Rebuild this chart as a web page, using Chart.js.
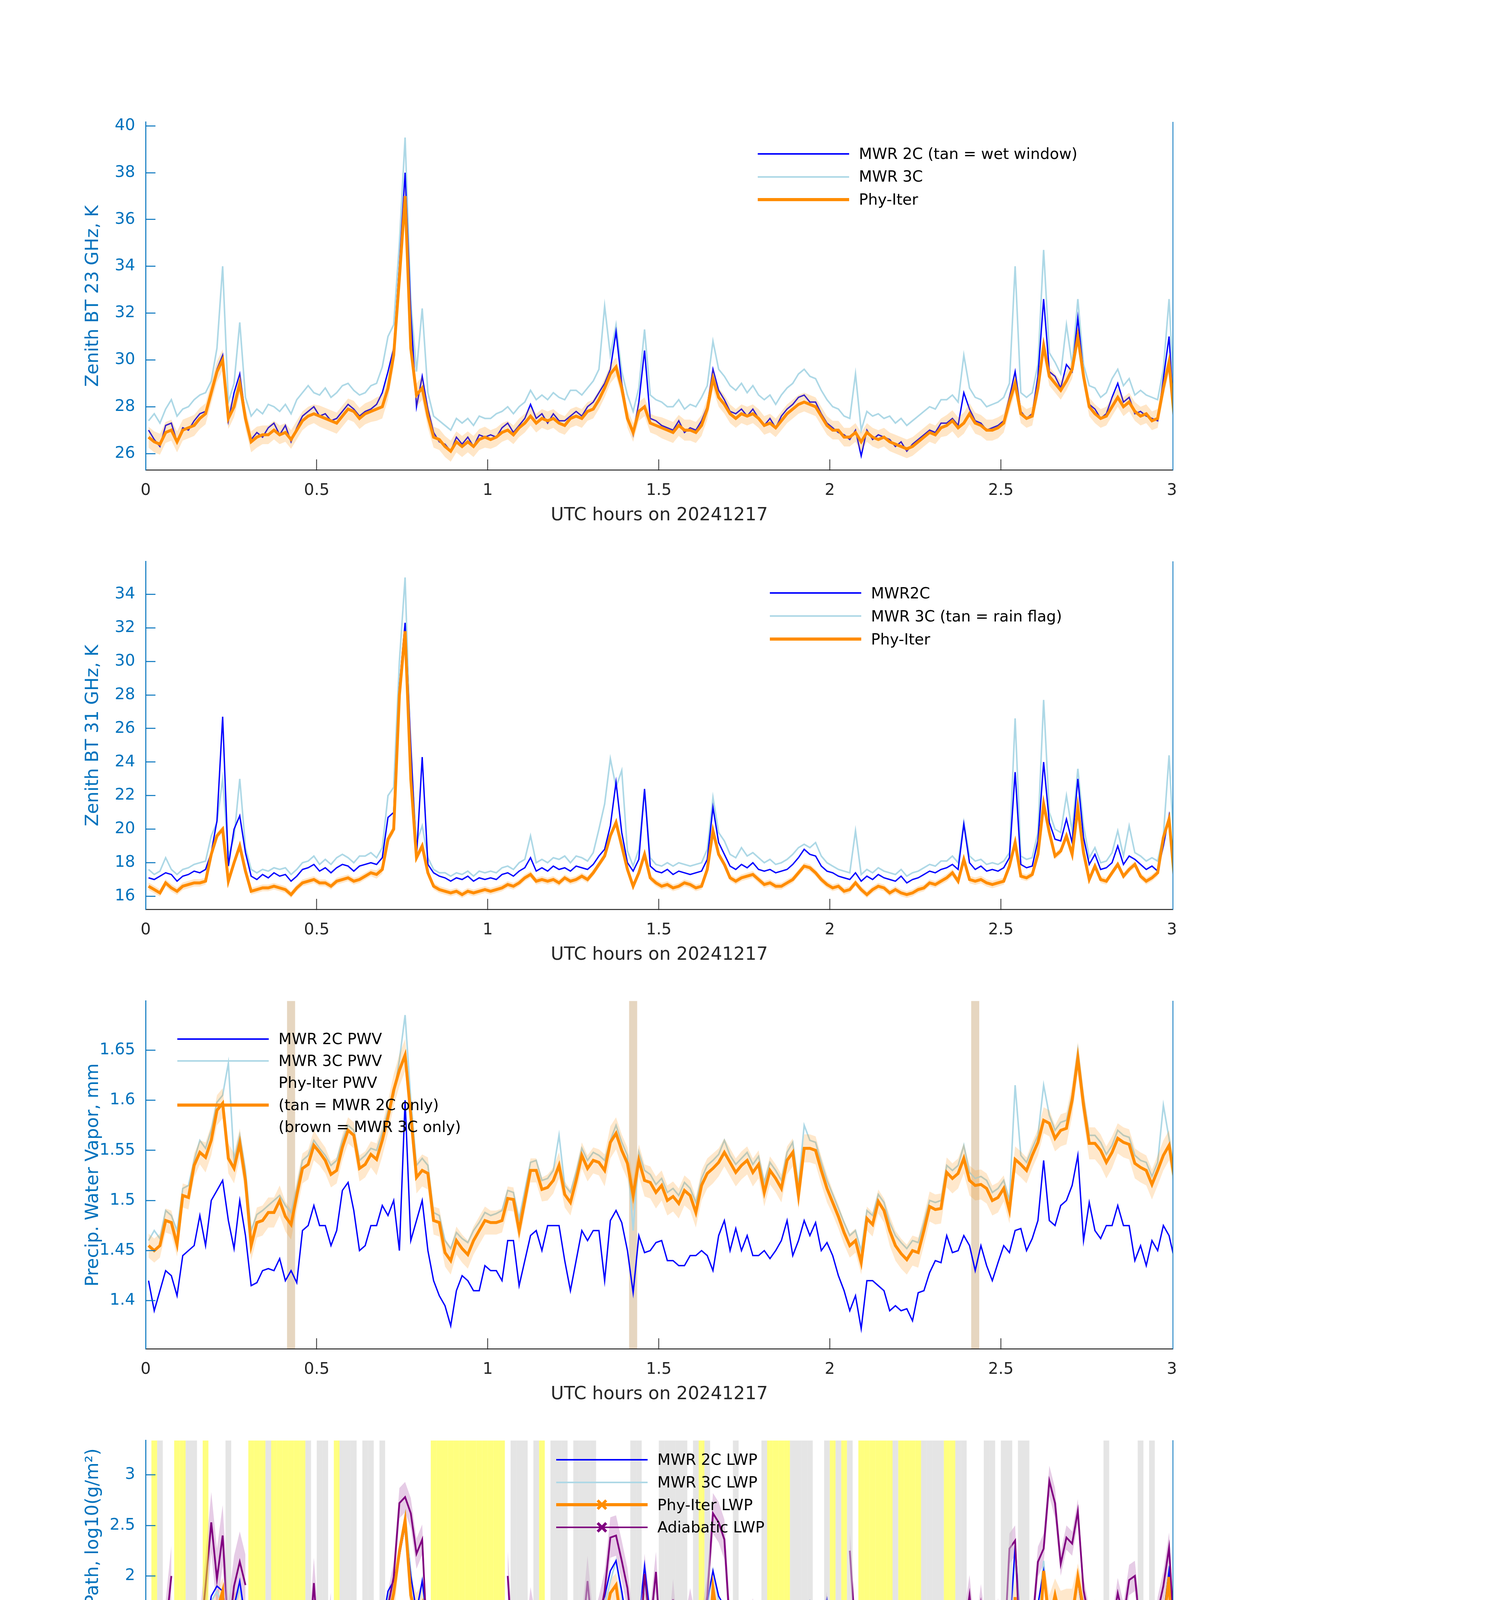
<!DOCTYPE html>
<html>
<head>
<meta charset="utf-8">
<script src="https://cdn.jsdelivr.net/npm/chart.js@4.4.1/dist/chart.umd.min.js"></script>
<style>
  html, body { margin: 0; padding: 0; background: #fff; }
  #page { position: relative; width: 3825px; height: 6000px; overflow: hidden; background: #fff; }
  #page canvas { position: absolute; left: 0; }
  .legend { position: absolute; font-family: "DejaVu Sans", sans-serif; font-size: 39px; color: #000; }
  .legend .row { position: relative; white-space: nowrap; }
  .legend .swatch { position: absolute; left: 0; }
  .legend svg { position: absolute; }
</style>
</head>
<body>
<div id="page"></div>
<script>
// DQ flag of the Phy-Iter retrieval, one value per minute (0..180)
const dqFlag = [
  0,5,4,0,0,5,5,4,4,0, 5,0,0,0,4,0,0,0,5,5, 5,4,5,5,5,5,5,5,4,0, 4,4,0,5,4,4,4,0,4,4,
  0,4,0,0,0,0,0,0,0,0, 5,5,5,5,5,5,5,5,5,5, 5,5,5,0,4,4,4,0,4,5, 0,4,4,4,0,4,4,3,4,0,
  0,0,0,0,0,4,4,0,0,0, 4,4,3,4,4,0,4,5,4,0, 0,0,0,4,0,0,0,0,3,5, 5,5,5,4,4,4,4,0,0,4,
  5,4,5,3,0,5,5,5,5,5, 5,4,5,5,5,5,4,4,4,4, 5,5,4,4,0,0,0,4,4,0, 4,3,0,4,4,0,0,0,0,0,
  0,0,0,0,0,0,0,0,4,0, 0,0,0,0,4,0,4,0,0,0,0
];

// 23 GHz brightness temperature, K
const bt23Mwr2c = [
  27.0,26.6,26.3,27.2,27.3,26.5,27.1,27.0,27.4,27.7, 27.8,28.7,29.6,30.2,27.4,28.6,29.4,27.6,26.6,26.9,
  26.7,27.1,27.3,26.8,27.2,26.5,27.1,27.6,27.8,28.0, 27.6,27.7,27.4,27.5,27.8,28.1,27.9,27.6,27.8,27.9,
  28.1,28.6,29.5,30.5,34.0,38.0,32.0,28.0,29.3,27.9, 26.9,26.5,26.4,26.1,26.7,26.4,26.7,26.3,26.8,26.7,
  26.8,26.7,27.1,27.3,26.9,27.2,27.5,28.1,27.5,27.7, 27.3,27.7,27.4,27.4,27.6,27.8,27.6,28.0,28.2,28.6,
  29.0,29.6,31.2,29.0,27.6,26.8,28.2,30.4,27.5,27.4, 27.2,27.1,27.0,27.4,26.9,27.1,27.0,27.4,28.0,29.6,
  28.7,28.3,27.8,27.7,27.9,27.6,27.9,27.5,27.2,27.5, 27.1,27.6,27.9,28.1,28.4,28.5,28.2,28.2,27.7,27.3,
  27.1,26.9,26.8,26.6,27.0,25.9,27.0,26.6,26.8,26.7, 26.6,26.3,26.5,26.1,26.4,26.6,26.8,27.0,26.9,27.3,
  27.3,27.5,27.2,28.6,27.9,27.4,27.3,27.0,27.1,27.2, 27.4,28.4,29.5,27.8,27.5,27.7,29.3,32.6,29.5,29.3,
  28.8,29.8,29.5,31.8,29.4,28.1,27.9,27.5,27.7,28.4, 29.0,28.2,28.4,27.7,27.8,27.6,27.5,27.4,29.2,31.0,27.0
];
const bt23Mwr3c = [
  27.4,27.7,27.3,27.9,28.3,27.6,27.9,28.0,28.3,28.5, 28.6,29.1,30.5,34.0,28.2,29.0,31.6,28.4,27.6,27.9,
  27.7,28.1,28.0,27.8,28.1,27.7,28.3,28.6,28.9,28.6, 28.5,28.8,28.4,28.6,28.9,29.0,28.7,28.5,28.6,28.9,
  29.0,29.7,31.0,31.5,35.0,39.5,32.5,29.5,32.2,28.6, 27.6,27.4,27.2,27.0,27.5,27.3,27.5,27.2,27.6,27.5,
  27.5,27.7,27.8,28.0,27.7,28.0,28.2,28.7,28.3,28.5, 28.3,28.6,28.4,28.3,28.7,28.7,28.5,28.8,29.1,29.6,
  32.3,30.2,31.5,29.5,28.5,27.8,28.8,31.3,28.5,28.3, 28.2,28.0,28.0,28.3,27.9,28.1,28.0,28.4,28.9,30.8,
  29.6,29.3,28.9,28.7,29.0,28.6,28.9,28.5,28.3,28.5, 28.1,28.5,28.8,29.0,29.4,29.6,29.3,29.2,28.7,28.3,
  28.0,27.9,27.6,27.5,29.4,27.0,27.8,27.6,27.7,27.5, 27.6,27.3,27.5,27.2,27.4,27.6,27.8,28.0,27.9,28.3,
  28.3,28.5,28.2,30.2,28.8,28.4,28.3,28.0,28.1,28.2, 28.4,29.0,34.0,28.6,28.4,28.6,29.8,34.7,30.3,29.9,
  29.4,31.5,29.8,32.6,29.8,28.9,28.8,28.4,28.6,29.2, 29.6,28.9,29.2,28.5,28.7,28.5,28.4,28.3,29.6,32.6,27.8
];
const bt23Phy = [
  26.7,26.5,26.4,26.9,27.0,26.5,27.0,27.1,27.2,27.5, 27.7,28.6,29.5,30.0,27.5,28.0,29.0,27.5,26.5,26.7,
  26.8,26.8,27.0,26.8,26.9,26.6,27.0,27.4,27.6,27.7, 27.6,27.5,27.4,27.3,27.6,27.9,27.8,27.5,27.7,27.8,
  27.9,28.0,28.8,30.2,33.5,37.0,30.5,28.5,28.8,27.6, 26.7,26.6,26.3,26.1,26.5,26.3,26.5,26.3,26.6,26.7,
  26.6,26.7,26.9,27.0,26.8,27.1,27.3,27.6,27.3,27.5, 27.4,27.5,27.3,27.2,27.5,27.6,27.5,27.8,27.9,28.3,
  28.8,29.4,29.7,28.8,27.5,26.9,27.8,28.0,27.3,27.2, 27.1,27.0,26.9,27.2,27.0,27.0,26.9,27.2,27.9,29.2,
  28.4,28.1,27.7,27.5,27.7,27.6,27.7,27.5,27.2,27.3, 27.1,27.4,27.7,27.9,28.1,28.2,28.1,28.0,27.6,27.2,
  27.0,27.0,26.7,26.7,26.9,26.5,26.9,26.7,26.6,26.7, 26.5,26.4,26.3,26.2,26.3,26.5,26.7,26.9,26.8,27.1,
  27.2,27.4,27.1,27.3,27.7,27.3,27.2,27.0,27.0,27.1, 27.3,28.2,29.0,27.7,27.5,27.6,28.8,30.6,29.3,29.0,
  28.7,29.1,29.6,31.0,29.3,28.0,27.7,27.5,27.6,28.0, 28.4,28.0,28.2,27.8,27.6,27.7,27.4,27.5,28.8,29.9,27.3
];
// half width of the Phy-Iter uncertainty band, per 10 minutes
const bt23PhySpread = [0.45,0.45,0.4,0.45,0.5,0.45,0.4,0.4,0.4,0.45,0.4,0.4,0.4,0.4,0.45,0.4,0.4,0.4,0.45];

// 31 GHz brightness temperature, K
const bt31Mwr2c = [
  17.1,17.0,17.2,17.4,17.3,16.9,17.2,17.3,17.5,17.4, 17.6,18.6,20.5,26.7,17.8,20.0,20.8,18.6,17.2,17.0,
  17.3,17.1,17.4,17.2,17.3,16.9,17.2,17.6,17.7,17.9, 17.5,17.7,17.4,17.7,17.9,17.8,17.5,17.8,17.9,18.0,
  17.9,18.3,20.7,21.0,28.5,32.3,25.0,18.3,24.3,17.9, 17.4,17.2,17.1,16.9,17.1,17.0,17.2,16.9,17.1,17.0,
  17.1,17.0,17.3,17.4,17.2,17.5,17.7,18.3,17.5,17.7, 17.5,17.8,17.6,17.7,17.5,17.8,17.7,17.6,17.9,18.4,
  18.8,20.2,22.8,19.8,18.0,17.5,18.2,22.4,17.8,17.5, 17.4,17.6,17.3,17.5,17.4,17.3,17.4,17.5,18.2,21.3,
  19.2,18.5,17.8,17.6,17.9,17.7,18.0,17.6,17.5,17.6, 17.4,17.5,17.6,17.9,18.3,18.8,18.5,18.4,17.8,17.5,
  17.4,17.2,17.1,17.0,17.4,16.9,17.2,17.0,17.3,17.1, 17.0,16.9,17.2,16.8,17.0,17.1,17.3,17.5,17.4,17.6,
  17.7,17.9,17.6,20.3,18.0,17.6,17.8,17.5,17.6,17.5, 17.7,18.3,23.4,17.9,17.7,17.8,19.3,24.0,20.4,19.4,
  19.3,20.6,19.2,23.0,19.5,17.9,18.5,17.6,17.7,18.0, 19.0,17.9,18.4,18.2,17.9,17.6,17.8,17.5,19.0,20.8,17.5
];
const bt31Mwr3c = [
  17.6,17.3,17.5,18.3,17.6,17.3,17.6,17.7,17.9,18.0, 18.1,19.6,20.4,23.0,18.4,19.5,23.0,18.9,17.6,17.4,
  17.6,17.5,17.7,17.6,17.7,17.3,17.6,18.0,18.1,18.4, 17.9,18.2,17.9,18.3,18.5,18.3,18.0,18.4,18.4,18.6,
  18.3,18.9,22.0,22.5,30.0,35.0,24.0,19.2,20.2,18.3, 17.6,17.4,17.4,17.2,17.4,17.3,17.5,17.2,17.5,17.4,
  17.5,17.4,17.7,17.8,17.6,18.0,18.2,19.6,18.0,18.2, 18.0,18.3,18.2,18.4,18.0,18.4,18.3,18.1,18.6,20.0,
  21.5,24.2,22.5,23.5,18.7,17.8,18.8,22.3,18.3,17.9, 17.8,18.0,17.8,18.0,17.9,17.8,17.9,18.0,18.8,21.9,
  19.8,19.3,18.5,18.3,18.9,18.4,18.6,18.3,18.0,18.2, 17.9,18.0,18.2,18.5,18.9,19.1,18.9,19.2,18.4,18.0,
  17.8,17.6,17.5,17.4,19.9,17.3,17.6,17.4,17.7,17.5, 17.4,17.3,17.6,17.2,17.4,17.5,17.7,17.9,17.8,18.1,
  18.1,18.4,18.0,20.4,18.4,18.1,18.2,17.9,18.0,17.9, 18.1,18.6,26.6,18.4,18.2,18.3,19.8,27.7,21.0,20.0,
  19.8,22.0,19.9,23.6,20.2,18.3,18.9,18.0,18.1,18.6, 19.9,18.4,20.2,18.6,18.4,18.1,18.3,18.1,19.6,24.4,18.0
];
const bt31Phy = [
  16.6,16.4,16.2,16.8,16.5,16.3,16.6,16.7,16.8,16.8, 16.9,18.5,19.6,20.0,16.9,18.0,19.0,17.5,16.3,16.4,
  16.5,16.5,16.6,16.5,16.4,16.1,16.5,16.8,16.9,17.0, 16.8,16.8,16.6,16.9,17.0,17.1,16.9,17.0,17.2,17.4,
  17.3,17.6,19.4,20.0,28.0,31.8,23.0,18.3,19.0,17.4, 16.6,16.4,16.3,16.2,16.3,16.1,16.3,16.2,16.3,16.4,
  16.3,16.4,16.5,16.7,16.6,16.8,17.1,17.3,16.9,17.0, 16.9,17.0,16.8,17.1,16.9,17.0,17.2,17.0,17.4,17.9,
  18.4,19.6,20.4,19.0,17.6,16.6,17.4,18.5,17.1,16.8, 16.6,16.7,16.5,16.6,16.8,16.7,16.5,16.6,17.6,19.9,
  18.5,17.9,17.1,16.9,17.1,17.2,17.3,17.0,16.7,16.8, 16.6,16.6,16.8,17.0,17.4,17.8,17.7,17.4,17.0,16.7,
  16.5,16.6,16.3,16.4,16.8,16.4,16.1,16.4,16.6,16.5, 16.2,16.4,16.2,16.1,16.2,16.4,16.5,16.8,16.7,16.9,
  17.1,17.4,16.9,18.2,17.0,16.9,17.0,16.8,16.7,16.8, 16.9,17.8,19.2,17.2,17.1,17.3,18.5,21.5,19.8,18.4,
  18.7,19.6,18.5,21.3,18.6,17.0,17.8,17.0,16.9,17.4, 17.9,17.2,17.6,17.9,17.2,16.9,17.1,17.4,19.5,20.6,16.8
];
const bt31PhySpread = [0.22,0.2,0.2,0.2,0.25,0.2,0.2,0.2,0.2,0.2,0.2,0.2,0.2,0.2,0.22,0.2,0.2,0.2,0.22];

// precipitable water vapor, mm
const pwvMwr2c = [
  1.42,1.39,1.41,1.43,1.425,1.405,1.445,1.45,1.455,1.485, 1.455,1.50,1.51,1.52,1.48,1.452,1.50,1.465,1.415,1.418,
  1.43,1.432,1.43,1.442,1.42,1.43,1.418,1.47,1.475,1.495, 1.475,1.475,1.455,1.47,1.51,1.518,1.49,1.45,1.455,1.475,
  1.475,1.495,1.485,1.50,1.45,1.60,1.46,1.48,1.50,1.45, 1.42,1.405,1.395,1.375,1.41,1.425,1.42,1.41,1.41,1.435,
  1.43,1.43,1.42,1.46,1.46,1.415,1.44,1.465,1.47,1.45, 1.475,1.475,1.475,1.44,1.41,1.44,1.47,1.46,1.47,1.47,
  1.42,1.48,1.49,1.478,1.45,1.408,1.465,1.448,1.45,1.458, 1.46,1.44,1.44,1.435,1.435,1.445,1.445,1.45,1.445,1.43,
  1.465,1.48,1.45,1.472,1.45,1.465,1.445,1.445,1.45,1.442, 1.45,1.46,1.48,1.445,1.46,1.48,1.465,1.478,1.45,1.458,
  1.445,1.425,1.41,1.39,1.405,1.372,1.42,1.42,1.415,1.41, 1.39,1.395,1.39,1.392,1.38,1.408,1.41,1.428,1.44,1.438,
  1.465,1.448,1.45,1.465,1.455,1.43,1.455,1.435,1.42,1.438, 1.455,1.448,1.47,1.472,1.45,1.462,1.48,1.54,1.48,1.475,
  1.495,1.50,1.515,1.545,1.46,1.498,1.47,1.462,1.475,1.475, 1.495,1.475,1.475,1.44,1.455,1.435,1.46,1.45,1.475,1.465,1.44
];
const pwvMwr3c = [
  1.460,1.470,1.462,1.490,1.485,1.470,1.512,1.515,1.540,1.560, 1.552,1.570,1.598,1.605,1.637,1.540,1.565,1.530,1.470,1.486,
  1.490,1.495,1.500,1.505,1.495,1.488,1.512,1.540,1.545,1.560, 1.552,1.545,1.535,1.540,1.560,1.575,1.570,1.540,1.545,1.552,
  1.550,1.568,1.590,1.605,1.640,1.685,1.600,1.535,1.542,1.535, 1.488,1.485,1.460,1.452,1.468,1.462,1.458,1.470,1.478,1.488,
  1.485,1.487,1.490,1.510,1.508,1.482,1.510,1.538,1.540,1.520, 1.522,1.530,1.565,1.515,1.508,1.528,1.552,1.540,1.548,1.545,
  1.540,1.560,1.575,1.558,1.545,1.470,1.548,1.530,1.526,1.516, 1.522,1.508,1.512,1.505,1.518,1.512,1.498,1.522,1.535,1.540,
  1.546,1.560,1.545,1.536,1.542,1.548,1.536,1.544,1.518,1.538, 1.530,1.520,1.548,1.558,1.515,1.575,1.560,1.558,1.538,1.520,
  1.506,1.492,1.478,1.465,1.470,1.450,1.490,1.485,1.506,1.498, 1.478,1.465,1.458,1.452,1.460,1.458,1.478,1.500,1.498,1.500,
  1.535,1.530,1.535,1.555,1.528,1.522,1.524,1.520,1.508,1.512, 1.520,1.500,1.615,1.545,1.538,1.552,1.565,1.615,1.585,1.570,
  1.578,1.580,1.605,1.650,1.602,1.565,1.565,1.558,1.546,1.555, 1.570,1.565,1.563,1.545,1.540,1.538,1.524,1.538,1.595,1.562,1.528
];
const pwvPhy = [
  1.455,1.450,1.455,1.480,1.478,1.456,1.505,1.503,1.535,1.548, 1.543,1.560,1.590,1.597,1.542,1.532,1.557,1.520,1.455,1.478,
  1.480,1.488,1.488,1.500,1.484,1.476,1.505,1.532,1.536,1.555, 1.548,1.540,1.526,1.530,1.553,1.570,1.565,1.532,1.536,1.546,
  1.541,1.560,1.583,1.610,1.630,1.645,1.585,1.523,1.530,1.527, 1.480,1.478,1.448,1.440,1.460,1.452,1.446,1.460,1.470,1.480,
  1.478,1.478,1.480,1.502,1.501,1.470,1.500,1.530,1.530,1.511, 1.513,1.520,1.535,1.506,1.498,1.520,1.545,1.532,1.540,1.538,
  1.530,1.558,1.567,1.550,1.537,1.505,1.540,1.520,1.518,1.508, 1.515,1.500,1.504,1.497,1.510,1.505,1.488,1.515,1.527,1.532,
  1.538,1.548,1.538,1.528,1.535,1.540,1.528,1.536,1.508,1.530, 1.522,1.512,1.540,1.548,1.505,1.552,1.552,1.550,1.530,1.512,
  1.498,1.484,1.468,1.455,1.460,1.438,1.482,1.476,1.499,1.490, 1.470,1.455,1.447,1.441,1.450,1.448,1.470,1.494,1.491,1.492,
  1.528,1.522,1.527,1.542,1.520,1.515,1.516,1.512,1.500,1.503, 1.512,1.490,1.541,1.536,1.530,1.545,1.558,1.580,1.577,1.562,
  1.570,1.572,1.600,1.642,1.595,1.557,1.557,1.550,1.538,1.548, 1.562,1.558,1.556,1.537,1.533,1.530,1.516,1.530,1.545,1.555,1.520
];
const pwvPhySpread = [0.012,0.015,0.015,0.013,0.016,0.014,0.012,0.013,0.016,0.015,0.014,0.014,0.012,0.015,0.015,0.013,0.016,0.015,0.013];
// minutes flagged "MWR 2C only"
const pwvTanMinutes = [25, 85, 145];

// liquid water path, log10(g/m2); null = no retrieval
const lwpMwr2c = [
  1.45,1.42,1.46,1.50,1.62,1.42,1.45,1.45,1.42,1.50, 1.45,1.80,1.90,1.85,1.45,1.70,1.95,1.55,1.45,1.42,
  1.48,1.44,1.47,1.42,1.40,1.38,1.47,1.42,1.48,1.43, 1.50,1.40,1.58,1.43,1.40,1.55,1.44,1.60,1.58,1.50,
  1.66,1.52,1.85,1.95,2.20,2.50,2.00,1.65,1.95,1.50, 1.47,1.44,1.46,1.40,1.43,1.45,1.44,1.42,1.46,1.43,
  1.40,1.42,1.45,1.55,1.52,1.47,1.48,1.60,1.45,1.62, 1.40,1.50,1.46,1.55,1.72,1.48,1.50,1.46,1.55,1.65,
  1.80,2.05,2.15,1.85,1.50,1.48,1.55,2.10,1.60,1.50, 1.50,1.45,1.55,1.45,1.55,1.66,1.45,1.55,1.75,2.05,
  1.80,1.70,1.50,1.55,1.70,1.45,1.65,1.50,1.45,1.45, 1.42,1.48,1.40,1.55,1.62,1.60,1.75,1.60,1.55,1.77,
  1.42,1.45,1.38,1.45,1.40,1.40,1.43,1.45,1.42,1.48, 1.45,1.48,1.35,1.45,1.40,1.38,1.43,1.50,1.42,1.42,
  1.42,1.50,1.55,1.60,1.55,1.62,1.45,1.50,1.52,1.48, 1.55,1.42,2.30,1.45,1.50,1.45,1.72,2.05,1.55,1.70,
  1.65,1.55,1.65,1.95,1.60,1.45,1.50,1.48,1.46,1.50, 1.65,1.50,1.72,1.68,1.50,1.55,1.50,1.55,1.60,2.05,1.48
];
const lwpMwr3c = [
  1.35,1.28,1.25,1.32,1.40,1.30,1.22,1.25,1.28,1.30, 1.33,1.75,1.85,1.70,1.30,1.65,1.90,1.45,1.28,1.22,
  1.25,1.28,1.30,1.32,1.27,1.24,1.30,1.33,1.35,1.30, 1.33,1.27,1.35,1.30,1.28,1.33,1.30,1.35,1.40,1.35,
  1.50,1.45,1.80,1.90,2.20,2.60,2.05,1.55,1.95,1.40, 1.30,1.25,1.22,1.25,1.20,1.24,1.27,1.22,1.26,1.28,
  1.24,1.30,1.28,1.40,1.35,1.30,1.33,1.38,1.32,1.40, 1.30,1.35,1.32,1.38,1.45,1.35,1.37,1.33,1.38,1.50,
  1.70,1.95,2.15,1.80,1.40,1.35,1.40,1.95,1.45,1.38, 1.35,1.33,1.38,1.35,1.40,1.45,1.35,1.45,1.70,2.05,
  1.75,1.65,1.45,1.48,1.60,1.40,1.55,1.42,1.38,1.32, 1.30,1.35,1.33,1.40,1.45,1.48,1.55,1.50,1.45,1.55,
  1.35,1.38,1.32,1.35,1.30,1.32,1.35,1.38,1.33,1.36, 1.33,1.35,1.28,1.33,1.30,1.30,1.33,1.38,1.33,1.32,
  1.35,1.40,1.45,1.50,1.45,1.52,1.38,1.42,1.45,1.40, 1.45,1.38,2.20,1.40,1.42,1.40,1.62,2.15,1.50,1.62,
  1.58,1.50,1.62,2.00,1.55,1.40,1.45,1.42,1.40,1.45, 1.55,1.45,1.62,1.60,1.45,1.48,1.42,1.45,1.55,2.10,1.42
];
const lwpPhy = [
  0.77,null,-1.5,0.91,0.60,null,null,-1.5,0.22,-1.5, null,1.48,1.65,1.85,0.38,1.62,1.72,0.98,null,null,
  null,null,null,null,null,null,null,null,-1.5,0.54, -1.5,-1.5,0.60,-1.5,-1.5,0.31,0.32,0.62,0.96,0.64,
  1.13,0.95,1.55,1.83,2.24,2.55,1.81,1.58,1.72,0.87, null,null,null,null,null,null,null,null,null,null,
  null,null,null,0.53,0.55,0.69,0.38,0.85,1.08,null, 0.86,0.22,0.40,0.60,1.17,0.07,0.35,0.60,0.95,1.20,
  1.55,1.83,1.91,1.50,0.22,0.85,1.40,1.64,1.35,0.86, -1.5,0.55,-1.5,0.64,0.54,0.82,-1.5,-1.5,1.00,1.88,
  1.49,1.51,0.92,0.62,0.89,0.90,1.00,0.89,-1.5,null, null,null,null,0.55,0.95,1.13,1.35,1.35,1.15,0.98,
  null,null,null,1.10,1.03,null,null,null,null,null, null,null,null,null,null,null,0.56,1.00,-1.5,null,
  null,null,0.93,1.25,0.77,0.85,1.24,0.66,0.58,0.81, -1.5,0.60,1.79,0.95,0.83,1.08,1.12,2.05,1.54,1.81,
  1.56,1.60,1.60,1.99,1.67,0.81,1.37,0.80,0.72,0.86, 1.38,1.14,1.43,1.39,0.79,1.27,1.21,0.63,1.50,1.99,0.61
];
const lwpAdiabatic = [
  1.50,null,1.40,1.45,2.00,null,null,1.13,1.08,1.32, 1.90,2.53,1.97,2.40,1.43,1.90,2.14,1.91,null,null,
  null,1.11,null,null,null,null,null,null,1.12,1.93, 1.10,1.10,1.54,null,1.12,1.41,1.11,1.28,1.10,1.10,
  1.52,1.39,1.70,1.99,2.72,2.78,2.62,2.22,2.36,1.18, null,null,null,null,null,null,null,null,null,null,
  null,null,null,2.00,1.11,1.10,1.10,1.64,1.33,null, 1.49,1.45,1.40,1.14,1.37,1.11,1.35,1.95,1.35,1.55,
  1.85,2.38,2.40,2.15,1.88,1.38,1.08,2.02,1.50,2.04, 1.13,1.13,1.77,1.14,1.36,1.68,1.38,1.45,1.80,2.62,
  2.53,2.36,1.47,1.38,1.29,1.36,1.58,1.18,null,null, null,null,null,1.07,1.10,1.43,1.52,1.27,1.37,1.65,
  null,1.07,null,2.25,1.40,null,null,null,null,null, null,1.13,null,null,null,null,1.12,1.10,1.38,1.07,
  null,null,1.12,1.40,1.81,1.25,1.72,1.25,1.18,1.58, 1.13,2.27,2.35,1.13,1.33,1.49,2.14,2.27,2.94,2.72,
  2.12,2.38,2.32,2.64,1.86,1.57,1.61,1.55,1.14,1.49, 1.83,1.58,1.96,2.00,1.45,1.50,1.13,1.64,1.90,2.28,1.33
];
// Phy-Iter LWP 1-sigma in g/m2 and adiabatic band half width in log10, per 10 minutes
const lwpPhySigma = [22,25,25,25,30,30,25,25,25,25,22,25,25,25,25,30,35,30,30];
const lwpAdiabaticSpread = [0.3,0.3,0.25,0.3,0.15,0.2,0.25,0.25,0.2,0.2,0.2,0.2,0.2,0.25,0.2,0.15,0.12,0.15,0.15];

const BLUE = '#0000ff';
const LIGHTBLUE = '#add8e6';
const ORANGE = '#ff8c00';
const PURPLE = '#800080';
const AXIS_BLUE = '#0072bd';
const AXIS_DARK = '#262626';

Chart.defaults.font.family = '"DejaVu Sans", sans-serif';

const page = document.getElementById('page');
const plotTops = [296, 1421, 2546, 3671, 4795];
const TOP_PAD = 60;

// sample times: centre of each minute, in hours
const hours = dqFlag.map((f, i) => (i + 0.5) / 60);

function pts(values) {
    return values.map((v, i) => ({x: hours[i], y: v}));
}

function band(values, spread, sign) {
    return values.map((v, i) => v === null ? null : v + sign * spread[Math.floor(i / 10)]);
}

// log10 band from a linear sigma
function logBand(values, sigma, sign) {
    return values.map((v, i) => {
        if (v === null) return null;
        const lin = Math.pow(10, v) + sign * sigma[Math.floor(i / 10)];
        return lin > 0.03 ? Math.log10(lin) : -1.5;
    });
}

// points with no neighbour get a marker
function isolated(values) {
    return pts(values).filter((p, i) => p.y !== null && values[i - 1] == null && values[i + 1] == null);
}

function tickText(v) {
    return String(Math.round(v * 1000) / 1000);
}

function lineSet(label, values, color, width, order) {
    return {label, data: pts(values), borderColor: color, borderWidth: width, order,
        pointRadius: 0, fill: false, spanGaps: false};
}

function fillPair(lo, hi, color, order) {
    return [
        {label: '', data: pts(lo), borderColor: 'rgba(0,0,0,0)', borderWidth: 1, pointRadius: 0, fill: false, order},
        {label: '', data: pts(hi), borderColor: 'rgba(0,0,0,0)', borderWidth: 1, pointRadius: 0, fill: '-1', backgroundColor: color, order}
    ];
}

function makeChart(idx, datasets, y) {
    const canvas = document.createElement('canvas');
    canvas.width = 3825;
    canvas.height = 1125;
    canvas.style.width = '3825px';
    canvas.style.height = '1125px';
    canvas.style.top = (plotTops[idx] - TOP_PAD) + 'px';
    page.appendChild(canvas);
    return new Chart(canvas, {
        type: 'line',
        data: {datasets},
        options: {
            responsive: false,
            animation: false,
            devicePixelRatio: 1,
            layout: {padding: {left: 0, right: 822, top: TOP_PAD, bottom: 0}},
            plugins: {legend: {display: false}, tooltip: {enabled: false}},
            elements: {line: {tension: 0}},
            scales: {
                x: {
                    type: 'linear', position: 'bottom', min: 0, max: 3.003, offset: false,
                    afterFit: s => { s.height = 158; },
                    border: {display: true, color: AXIS_DARK, width: 2.5, z: 1},
                    grid: {display: true, offset: false, drawOnChartArea: false, drawTicks: true, tickLength: -27, tickWidth: 2, z: 1,
                        tickColor: c => (c.tick && (c.tick.value === 0 || c.tick.value === 3)) ? 'rgba(0,0,0,0)' : AXIS_DARK},
                    ticks: {stepSize: 0.5, includeBounds: false, autoSkip: false, maxRotation: 0, padding: 56,
                        color: AXIS_DARK, font: {size: 41}, callback: tickText},
                    title: {display: true, text: 'UTC hours on 20241217', color: AXIS_DARK, font: {size: 46},
                        padding: {top: 0, bottom: 13}}
                },
                y: {
                    type: 'linear', position: 'left', min: y.min, max: y.max,
                    afterFit: s => { s.width = 373; },
                    border: {display: true, color: AXIS_BLUE, width: 2.5, z: 1},
                    grid: {display: true, drawOnChartArea: false, drawTicks: true, tickLength: -25, tickWidth: 2.5, tickColor: AXIS_BLUE, z: 1},
                    ticks: {stepSize: y.step, includeBounds: false, autoSkip: false, padding: 52,
                        color: AXIS_BLUE, font: {size: 41}, callback: tickText},
                    title: {display: true, text: y.title, color: AXIS_BLUE, font: {size: 46},
                        padding: {top: 211, bottom: 0}}
                },
                yRight: {
                    type: 'linear', position: 'right', min: 0, max: 1,
                    afterFit: s => { s.width = 0; },
                    border: {display: true, color: AXIS_BLUE, width: 2, z: 1},
                    grid: {display: false},
                    ticks: {display: false}
                }
            }
        }
    });
}

function addLegend(spec) {
    const box = document.createElement('div');
    box.className = 'legend';
    box.style.left = spec.left + 'px';
    box.style.top = (spec.firstCenter - spec.gap / 2) + 'px';
    spec.items.forEach(it => {
        const lines = [].concat(it.text);
        const h = lines.length * spec.gap;
        const row = document.createElement('div');
        row.className = 'row';
        row.style.height = h + 'px';
        row.style.lineHeight = spec.gap + 'px';
        row.style.paddingLeft = '259px';
        lines.forEach((t, k) => {
            if (k) row.appendChild(document.createElement('br'));
            row.appendChild(document.createTextNode(t));
        });
        const sw = document.createElement('div');
        sw.className = 'swatch';
        sw.style.width = '234px';
        sw.style.height = it.width + 'px';
        sw.style.top = (h / 2 - it.width / 2) + 'px';
        sw.style.background = it.color;
        row.appendChild(sw);
        if (it.marker) {
            const ns = 'http://www.w3.org/2000/svg';
            const svg = document.createElementNS(ns, 'svg');
            svg.setAttribute('width', '30');
            svg.setAttribute('height', '30');
            svg.style.left = (117 - 15) + 'px';
            svg.style.top = (h / 2 - 15) + 'px';
            [[4, 4, 26, 26], [4, 26, 26, 4]].forEach(c => {
                const l = document.createElementNS(ns, 'line');
                l.setAttribute('x1', c[0]); l.setAttribute('y1', c[1]);
                l.setAttribute('x2', c[2]); l.setAttribute('y2', c[3]);
                l.setAttribute('stroke', it.color);
                l.setAttribute('stroke-width', '7');
                svg.appendChild(l);
            });
            row.appendChild(svg);
        }
        box.appendChild(row);
    });
    page.appendChild(box);
}

// ---- panel 1: 23 GHz
makeChart(0, [
    lineSet('MWR 2C (tan = wet window)', bt23Mwr2c, BLUE, 3.5, 4),
    lineSet('MWR 3C', bt23Mwr3c, LIGHTBLUE, 4, 5),
    ...fillPair(band(bt23Phy, bt23PhySpread, -1), band(bt23Phy, bt23PhySpread, 1), 'rgba(255,140,0,0.22)', 3),
    lineSet('Phy-Iter', bt23Phy, ORANGE, 7.5, 1)
], {min: 25.3, max: 40.16, step: 2, title: 'Zenith BT 23 GHz, K'});
addLegend({left: 1940, firstCenter: 394, gap: 58.5, items: [
    {text: 'MWR 2C (tan = wet window)', color: BLUE, width: 4},
    {text: 'MWR 3C', color: LIGHTBLUE, width: 4},
    {text: 'Phy-Iter', color: ORANGE, width: 8}
]});

// ---- panel 2: 31 GHz
makeChart(1, [
    lineSet('MWR2C', bt31Mwr2c, BLUE, 3.5, 4),
    lineSet('MWR 3C (tan = rain flag)', bt31Mwr3c, LIGHTBLUE, 4, 5),
    ...fillPair(band(bt31Phy, bt31PhySpread, -1), band(bt31Phy, bt31PhySpread, 1), 'rgba(255,140,0,0.22)', 3),
    lineSet('Phy-Iter', bt31Phy, ORANGE, 7.5, 1)
], {min: 15.22, max: 35.95, step: 2, title: 'Zenith BT 31 GHz, K'});
addLegend({left: 1971, firstCenter: 1518, gap: 59, items: [
    {text: 'MWR2C', color: BLUE, width: 4},
    {text: 'MWR 3C (tan = rain flag)', color: LIGHTBLUE, width: 4},
    {text: 'Phy-Iter', color: ORANGE, width: 8}
]});

// ---- panel 3: PWV
const PWV_MIN = 1.352, PWV_MAX = 1.699;
makeChart(2, [
    {type: 'bar', label: 'tan', data: pwvTanMinutes.map(m => ({x: hours[m], y: [PWV_MIN, PWV_MAX]})),
        backgroundColor: 'rgba(210,180,140,0.55)', barThickness: 20, grouped: false, order: 10},
    lineSet('MWR 2C PWV', pwvMwr2c, BLUE, 3.5, 4),
    lineSet('MWR 3C PWV', pwvMwr3c, LIGHTBLUE, 4, 5),
    ...fillPair(band(pwvPhy, pwvPhySpread, -1), band(pwvPhy, pwvPhySpread, 1), 'rgba(255,140,0,0.2)', 3),
    lineSet('Phy-Iter PWV', pwvPhy, ORANGE, 7.5, 1)
], {min: PWV_MIN, max: PWV_MAX, step: 0.05, title: 'Precip. Water Vapor, mm'});
addLegend({left: 454, firstCenter: 2660, gap: 56.3, items: [
    {text: 'MWR 2C PWV', color: BLUE, width: 4},
    {text: 'MWR 3C PWV', color: LIGHTBLUE, width: 4},
    {text: ['Phy-Iter PWV', '(tan = MWR 2C only)', '(brown = MWR 3C only)'], color: ORANGE, width: 8}
]});

// ---- panel 4: LWP
const LWP_MIN = -0.1, LWP_MAX = 3.34;
const spans = flags => dqFlag.map((f, i) => flags.includes(f) ? {x: hours[i], y: [LWP_MIN, LWP_MAX]} : null).filter(Boolean);
makeChart(3, [
    {type: 'bar', label: 'flag 5', data: spans([5]), backgroundColor: 'rgba(255,255,0,0.5)',
        barPercentage: 1, categoryPercentage: 1, grouped: false, inflateAmount: 0, order: -2},
    {type: 'bar', label: 'flag 3-4', data: spans([3, 4]), backgroundColor: 'rgba(204,204,204,0.5)',
        barPercentage: 1, categoryPercentage: 1, grouped: false, inflateAmount: 0, order: -1},
    ...fillPair(logBand(lwpPhy, lwpPhySigma, -1), logBand(lwpPhy, lwpPhySigma, 1), 'rgba(255,140,0,0.2)', 9),
    ...fillPair(band(lwpAdiabatic, lwpAdiabaticSpread, -1), band(lwpAdiabatic, lwpAdiabaticSpread, 1), 'rgba(128,0,128,0.2)', 8),
    lineSet('MWR 3C LWP', lwpMwr3c, LIGHTBLUE, 4, 7),
    lineSet('MWR 2C LWP', lwpMwr2c, BLUE, 3.5, 6),
    lineSet('Phy-Iter LWP', lwpPhy, ORANGE, 7.5, 4),
    lineSet('Adiabatic LWP', lwpAdiabatic, PURPLE, 4.5, 3),
    {label: '', data: isolated(lwpPhy), showLine: false, pointStyle: 'crossRot', pointRadius: 13,
        pointBorderWidth: 6, pointBorderColor: ORANGE, borderColor: ORANGE, order: 2},
    {label: '', data: isolated(lwpAdiabatic), showLine: false, pointStyle: 'crossRot', pointRadius: 13,
        pointBorderWidth: 6, pointBorderColor: PURPLE, borderColor: PURPLE, order: 2}
], {min: LWP_MIN, max: LWP_MAX, step: 0.5, title: 'log10 Liquid Water Path, log10(g/m\u00b2)'});
addLegend({left: 1424, firstCenter: 3737, gap: 57.7, items: [
    {text: 'MWR 2C LWP', color: BLUE, width: 4},
    {text: 'MWR 3C LWP', color: LIGHTBLUE, width: 4},
    {text: 'Phy-Iter LWP', color: ORANGE, width: 8, marker: true},
    {text: 'Adiabatic LWP', color: PURPLE, width: 4.5, marker: true}
]});

// ---- panel 5: DQ flag
makeChart(4, [
    {label: 'DQ flag', data: pts(dqFlag), showLine: false, pointRadius: 5, pointBorderWidth: 0,
        pointBackgroundColor: ORANGE, borderColor: ORANGE, backgroundColor: ORANGE, order: 1}
], {min: -0.52, max: 11.5, step: 2, title: 'MWR Phy Iter DQ Flag'});
</script>
</body>
</html>
